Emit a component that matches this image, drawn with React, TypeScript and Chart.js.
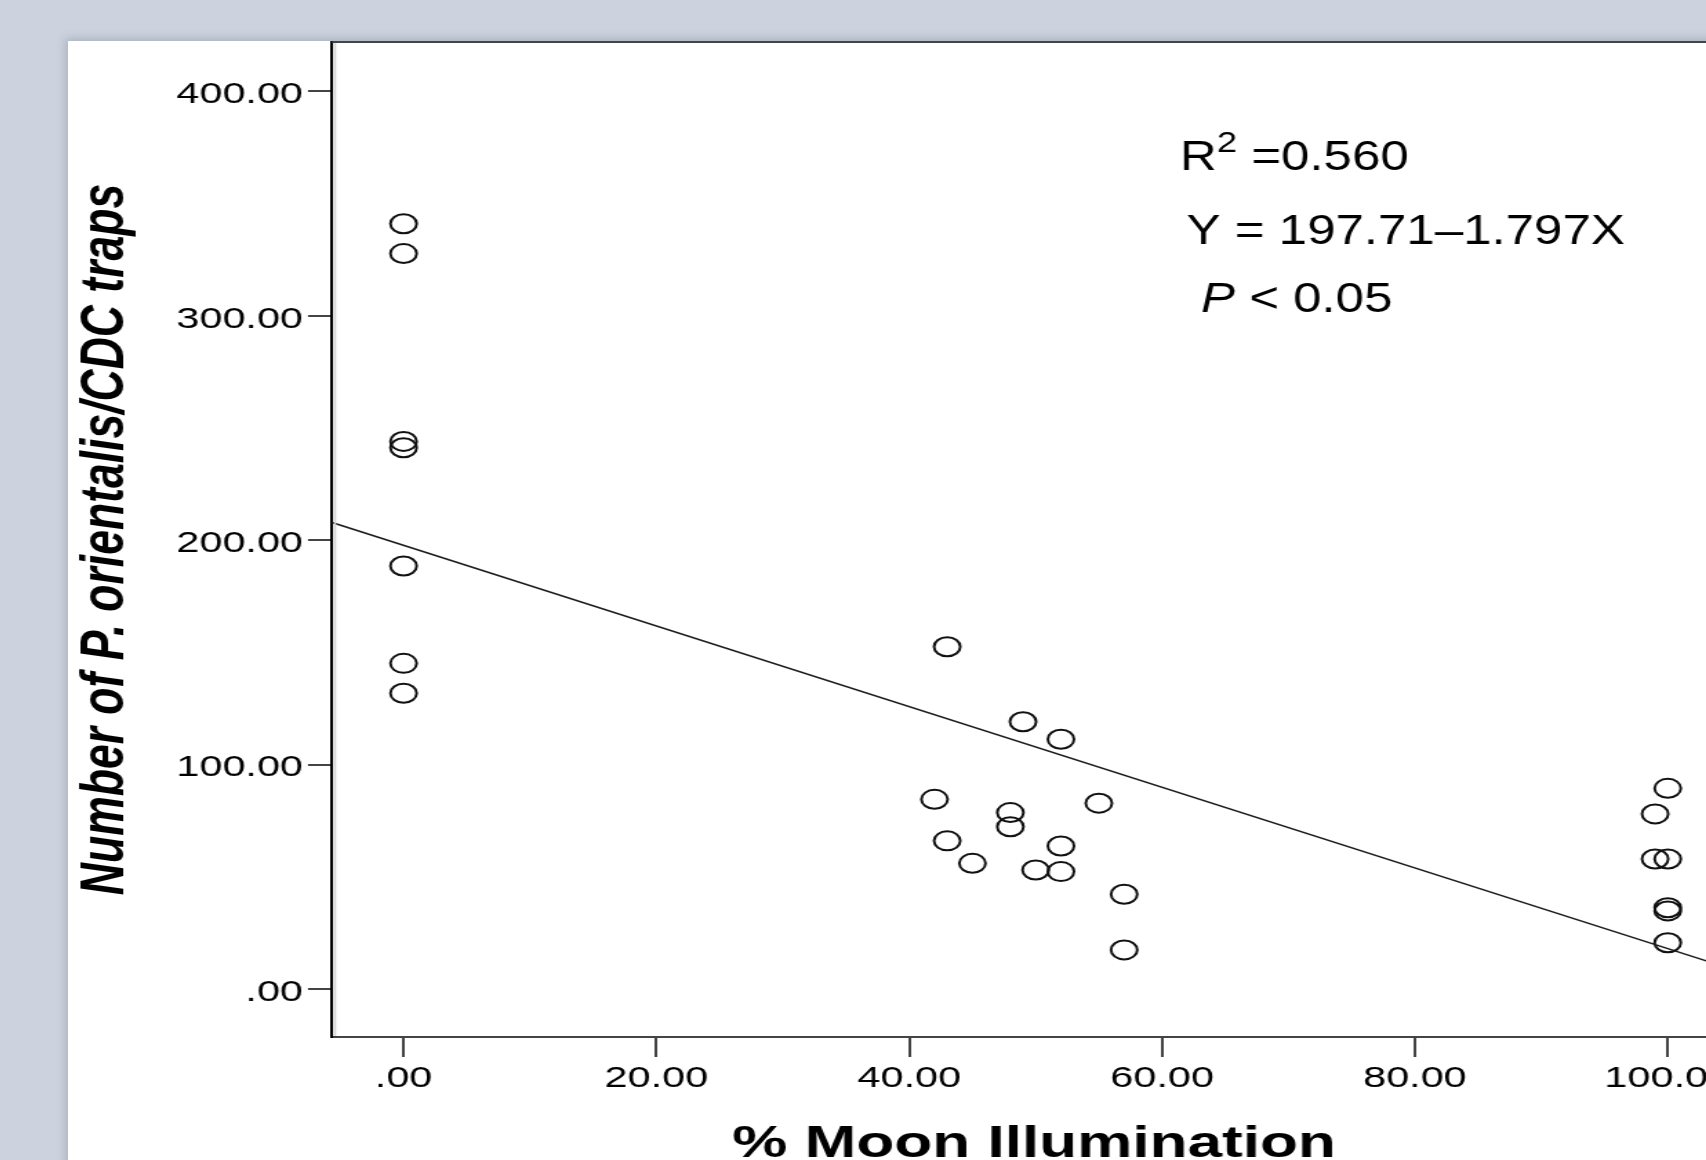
import React, { useEffect, useRef } from 'react';
import { Chart, registerables } from 'chart.js';

Chart.register(...registerables);

// ---- data ----
const moonIllumination: number[] = [
  0, 0, 0, 0, 0, 0, 0,
  43, 49, 52, 42, 48, 48, 55, 43, 45, 52, 50, 52, 57, 57,
  100, 99, 99, 100, 100, 100, 100,
];
const cdcCount: number[] = [
  341.0, 327.7, 244.0, 241.2, 188.5, 145.1, 131.8,
  152.5, 119.1, 111.3, 84.5, 78.6, 72.3, 82.8, 66.0, 56.0, 63.7, 53.0, 52.3, 42.2, 17.4,
  89.4, 78.0, 57.9, 57.9, 36.2, 34.8, 20.6,
];
const X_TICKS: number[] = [0, 20, 40, 60, 80, 100];
const Y_TICKS: number[] = [0, 100, 200, 300, 400];
const X_MIN = -5.66;
const X_MAX = 105.4;
const Y_MIN = -21.4;
const Y_MAX = 422;
const INTERCEPT = 197.71;
const SLOPE = -1.797;

const X_TITLE = '% Moon Illumination';
const Y_TITLE = 'Number of P. orientalis/CDC traps';
const R2_BASE = 'R';
const R2_SUP = '2';
const R2_VALUE = ' =0.560';
const EQ_TEXT = 'Y = 197.71\u20131.797X';
const P_ITALIC = 'P';
const P_REST = ' < 0.05';

// ---- look ----
const FONT = '"Liberation Sans", Arial, Helvetica, sans-serif';
const STRETCH = 1.38;
const CANVAS_W = 1240;
const CANVAS_H = 1140;
const TEXT_K = 0.88;

const fmt = (v: number) => (v === 0 ? '.00' : Number(v).toFixed(2));

const framePlugin = {
  id: 'frame',
  afterDraw(chart: any) {
    const { ctx, chartArea } = chart;
    const { left, right, top, bottom } = chartArea;
    ctx.save();
    ctx.strokeStyle = '#444';
    ctx.lineWidth = 2;
    ctx.beginPath();
    ctx.moveTo(left, top);
    ctx.lineTo(right, top);
    ctx.lineTo(right, bottom);
    ctx.stroke();
    ctx.strokeStyle = '#d4d4d4';
    ctx.lineWidth = 1.6;
    ctx.beginPath();
    ctx.moveTo(left + 2.2, top + 1);
    ctx.lineTo(left + 2.2, bottom - 1);
    ctx.stroke();
    ctx.restore();
  },
};

const annotationPlugin = {
  id: 'annotation',
  afterDraw(chart: any) {
    const ctx = chart.ctx as CanvasRenderingContext2D;
    ctx.save();
    ctx.fillStyle = '#000';
    ctx.textAlign = 'left';
    ctx.textBaseline = 'alphabetic';

    // R^2 line
    ctx.save();
    ctx.translate(805.8, 129);
    ctx.scale(TEXT_K, 1);
    ctx.font = `42px ${FONT}`;
    ctx.fillText(R2_BASE, 0, 0);
    let w = ctx.measureText(R2_BASE).width;
    ctx.font = `30px ${FONT}`;
    ctx.fillText(R2_SUP, w, -18);
    w += ctx.measureText(R2_SUP).width;
    ctx.font = `42px ${FONT}`;
    ctx.fillText(R2_VALUE, w, 0);
    ctx.restore();

    // equation
    ctx.save();
    ctx.translate(810.6, 203.3);
    ctx.scale(TEXT_K, 1);
    ctx.font = `42px ${FONT}`;
    ctx.fillText(EQ_TEXT, 0, 0);
    ctx.restore();

    // P value
    ctx.save();
    ctx.translate(821, 270.7);
    ctx.scale(TEXT_K, 1);
    ctx.font = `italic 42px ${FONT}`;
    ctx.fillText(P_ITALIC, 0, 0);
    const pw = ctx.measureText(P_ITALIC).width;
    ctx.font = `42px ${FONT}`;
    ctx.fillText(P_REST, pw, 0);
    ctx.restore();

    ctx.restore();
  },
};

export default function App() {
  const ref = useRef<HTMLCanvasElement>(null);

  useEffect(() => {
    if (!ref.current) return;
    const points = moonIllumination.map((x, i) => ({ x, y: cdcCount[i] }));
    const fitLine = [
      { x: X_MIN, y: INTERCEPT + SLOPE * X_MIN },
      { x: X_MAX, y: INTERCEPT + SLOPE * X_MAX },
    ];
    const chart = new Chart(ref.current, {
      type: 'scatter',
      data: {
        datasets: [
          {
            type: 'line',
            data: fitLine,
            borderColor: '#1a1a1a',
            borderWidth: 1.5,
            pointRadius: 0,
            fill: false,
          } as any,
          {
            type: 'scatter',
            data: points,
            pointStyle: 'circle',
            pointRadius: 9.5,
            pointBorderWidth: 2,
            borderColor: '#111',
            backgroundColor: 'rgba(0,0,0,0)',
          } as any,
        ],
      },
      options: {
        responsive: false,
        animation: false,
        devicePixelRatio: 1,
        layout: { autoPadding: false, padding: { top: 1, left: 0, right: 31.3, bottom: 0 } },
        plugins: { legend: { display: false }, tooltip: { enabled: false } },
        scales: {
          x: {
            type: 'linear',
            position: 'bottom',
            min: X_MIN,
            max: X_MAX,
            afterBuildTicks: (s: any) => {
              s.ticks = X_TICKS.map((v) => ({ value: v }));
            },
            afterFit: (s: any) => {
              s.height = 144;
              s.paddingLeft = 0;
              s.paddingRight = 0;
            },
            grid: {
              display: true,
              drawOnChartArea: false,
              drawTicks: true,
              tickLength: 20,
              color: '#444',
              tickColor: '#444',
              lineWidth: 2,
            },
            border: { display: true, color: '#444', width: 2 },
            ticks: {
              callback: (v: any) => fmt(Number(v)),
              font: { family: FONT, size: 30 },
              color: '#000',
              padding: 4,
              maxRotation: 0,
              autoSkip: false,
            },
            title: {
              display: true,
              text: X_TITLE,
              font: { family: FONT, size: 45, weight: 'bold' },
              color: '#000',
              padding: { top: 0, bottom: 9 },
            },
          },
          y: {
            type: 'linear',
            position: 'left',
            min: Y_MIN,
            max: Y_MAX,
            afterBuildTicks: (s: any) => {
              s.ticks = Y_TICKS.map((v) => ({ value: v }));
            },
            afterFit: (s: any) => {
              s.width = 191.3;
              s.paddingTop = 0;
              s.paddingBottom = 0;
            },
            grid: {
              display: true,
              drawOnChartArea: false,
              drawTicks: true,
              tickLength: 17.4,
              color: '#444',
              tickColor: '#444',
              lineWidth: 2,
            },
            border: { display: true, color: '#000', width: 2 },
            ticks: {
              callback: (v: any) => fmt(Number(v)),
              font: { family: FONT, size: 30 },
              color: '#000',
              padding: 3.6,
              labelOffset: 3.5,
              autoSkip: false,
            },
            title: {
              display: true,
              text: Y_TITLE,
              font: { family: FONT, size: 44.5, weight: 'bold', style: 'italic' },
              color: '#000',
              padding: { top: 1, bottom: 0 },
            },
          },
        },
      },
      plugins: [framePlugin, annotationPlugin],
    } as any);
    return () => chart.destroy();
  }, []);

  return (
    <div
      style={{
        position: 'fixed',
        left: 0,
        top: 0,
        width: '100vw',
        height: '100vh',
        overflow: 'hidden',
        background: '#cdd3de',
      }}
    >
      <div
        style={{
          position: 'absolute',
          left: 68,
          top: 41,
          width: 1700,
          height: 1200,
          background: '#ffffff',
          boxShadow: '-3px -3px 8px rgba(80,90,110,0.25)',
          overflow: 'hidden',
        }}
      >
        <canvas
          ref={ref}
          width={CANVAS_W}
          height={CANVAS_H}
          style={{
            display: 'block',
            transform: `scaleX(${STRETCH})`,
            transformOrigin: '0 0',
          }}
        />
      </div>
    </div>
  );
}
